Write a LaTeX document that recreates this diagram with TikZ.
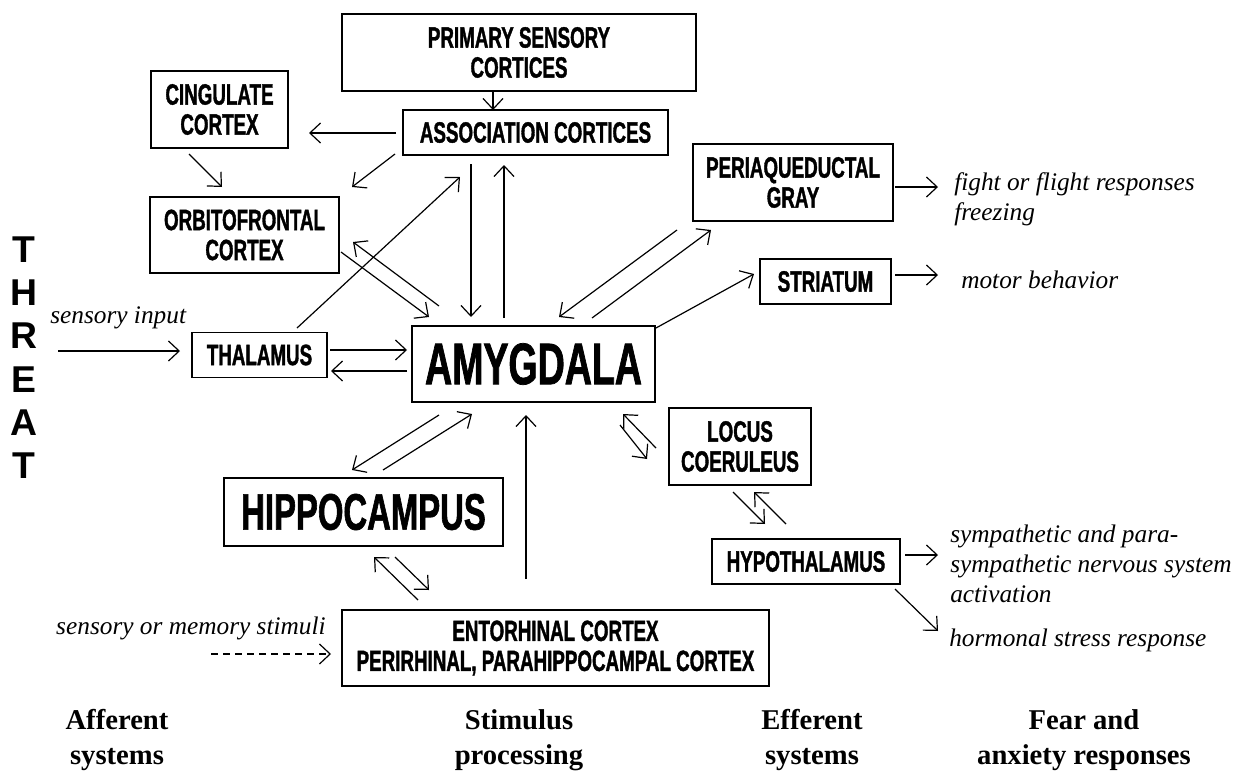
\documentclass[tikz,border=0pt]{standalone}
\usepackage{fontspec}
\setmainfont{Liberation Serif}
\newfontfamily\impact{Liberation Sans}[FakeStretch=0.64, BoldFont={* Bold}, BoldFeatures={FakeStretch=0.64, FakeBold=1.2}]
\newfontfamily\arialf{Liberation Sans}
\usetikzlibrary{arrows.meta}
\begin{document}
\begin{tikzpicture}[x=0.75pt,y=-0.75pt,
  box/.style={draw, line width=1.3pt, inner sep=0pt, align=center,
    font=\impact\bfseries\fontsize{22}{22.5}\selectfont},
  sz/.style 2 args={minimum width=#1*0.75pt, minimum height=#2*0.75pt},
  arr/.style={-{Straight Barb[length=8pt,width=15pt]}, line width=0.9pt},
  lbl/.style={font=\itshape\fontsize{19}{22.5}\selectfont, inner sep=0pt, align=left},
  cat/.style={font=\bfseries\fontsize{21.5}{26}\selectfont, align=center, inner sep=0pt}]
\useasboundingbox[fill=white] (0,0) rectangle (1241,771);

% boxes
\node[box, sz={354}{77}] (prim) at (519,52.5) {PRIMARY SENSORY\\CORTICES};
\node[box, sz={265}{45}] (assoc) at (535.5,132.5) {ASSOCIATION CORTICES};
\node[box, sz={137}{77}] (cing) at (219.5,109.5) {CINGULATE\\CORTEX};
\node[box, sz={189}{76}] (orbit) at (244.5,235) {ORBITOFRONTAL\\CORTEX};
\node[box, sz={200}{77}] (pag) at (793,182.5) {PERIAQUEDUCTAL\\GRAY};
\node[box, sz={131}{45}] (str) at (825.5,281.5) {STRIATUM};
\node[box, sz={135}{45}] (thal) at (259.5,355) {THALAMUS};
\node[box, sz={243}{76}, font=\impact\bfseries\fontsize{44}{44}\selectfont] (amyg) at (533.5,364) {AMYGDALA};
\node[box, sz={279}{68}, font=\impact\bfseries\fontsize{38.5}{40}\selectfont] (hippo) at (363.5,512) {HIPPOCAMPUS};
\node[box, sz={427}{76}] (ento) at (555.5,648) {ENTORHINAL CORTEX\\PERIRHINAL, PARAHIPPOCAMPAL CORTEX};
\node[box, sz={142}{77}] (lc) at (740,446.5) {LOCUS\\COERULEUS};
\node[box, sz={188}{45}] (hypo) at (806,561.5) {HYPOTHALAMUS};

% texts
\node[font=\arialf\bfseries\fontsize{28}{32.5}\selectfont, align=center, inner sep=0pt] (threat) at (24,357.5) {T\\H\\R\\E\\A\\T};
\node[lbl, anchor=base west] (sensin) at (50,323) {sensory input};
\node[lbl, anchor=base east] (sensmem) at (326,634) {sensory or memory stimuli};
\node[lbl, anchor=west] (fight) at (954,199) {fight or flight responses\\freezing};
\node[lbl, anchor=west] (motor) at (961,280) {motor behavior};
\node[lbl, anchor=west] (symp) at (950,564) {sympathetic and para-\\sympathetic nervous system\\activation};
\node[lbl, anchor=west] (horm) at (949,640) {hormonal stress response};
\node[cat] (c1) at (117,740) {Afferent\\systems};
\node[cat] (c2) at (519,740) {Stimulus\\processing};
\node[cat] (c3) at (812,740) {Efferent\\systems};
\node[cat] (c4) at (1084,740) {Fear and\\anxiety responses};

% connector end points
\coordinate (p1) at (493,91);   \coordinate (p2) at (493,110);
\coordinate (ac1) at (396,133); \coordinate (ac2) at (309,133);
\coordinate (co1) at (189,154); \coordinate (co2) at (222,187);
\coordinate (ao1) at (395,154); \coordinate (ao2) at (352,187);
\coordinate (oa1) at (341,252); \coordinate (oa2) at (429,317);
\coordinate (ma1) at (439,306); \coordinate (ma2) at (353,242);
\coordinate (ta1) at (297,328); \coordinate (ta2) at (460,177);
\coordinate (sa1) at (471,164); \coordinate (sa2) at (471,317);
\coordinate (as1) at (504,318); \coordinate (as2) at (504,165);
\coordinate (pa1) at (677,230); \coordinate (pa2) at (559,317);
\coordinate (ap1) at (592,318); \coordinate (ap2) at (711,230);
\coordinate (st1) at (656,328); \coordinate (st2) at (754,274);
\coordinate (mo1) at (895,275); \coordinate (mo2) at (938,275);
\coordinate (fi1) at (895,187); \coordinate (fi2) at (938,187);
\coordinate (si1) at (58,351);  \coordinate (si2) at (180,351);
\coordinate (th1) at (330,350); \coordinate (th2) at (407,350);
\coordinate (ht1) at (407,371); \coordinate (ht2) at (331,371);
\coordinate (ah1) at (439,415); \coordinate (ah2) at (352,470);
\coordinate (ha1) at (383,470); \coordinate (ha2) at (472,414);
\coordinate (ea1) at (526,579); \coordinate (ea2) at (526,415);
\coordinate (eh1) at (418,600); \coordinate (eh2) at (374,557);
\coordinate (he1) at (395,557); \coordinate (he2) at (429,590);
\coordinate (sm1) at (211,654); \coordinate (sm2) at (331,654);
\coordinate (la1) at (656,448); \coordinate (la2) at (623,414);
\coordinate (al1) at (620,425); \coordinate (al2) at (647,459);
\coordinate (lh1) at (733,492); \coordinate (lh2) at (765,524);
\coordinate (hl1) at (786,524); \coordinate (hl2) at (754,492);
\coordinate (hs1) at (905,555); \coordinate (hs2) at (938,555);
\coordinate (hh1) at (895,589); \coordinate (hh2) at (938,631);

% connectors
\draw[arr] (p1) -- (p2);
\draw[arr] (ac1) -- (ac2);
\draw[arr] (co1) -- (co2);
\draw[arr] (ao1) -- (ao2);
\draw[arr] (oa1) -- (oa2);
\draw[arr] (ma1) -- (ma2);
\draw[arr] (ta1) -- (ta2);
\draw[arr] (sa1) -- (sa2);
\draw[arr] (as1) -- (as2);
\draw[arr] (pa1) -- (pa2);
\draw[arr] (ap1) -- (ap2);
\draw[arr] (st1) -- (st2);
\draw[arr] (mo1) -- (mo2);
\draw[arr] (fi1) -- (fi2);
\draw[arr] (si1) -- (si2);
\draw[arr] (th1) -- (th2);
\draw[arr] (ht1) -- (ht2);
\draw[arr] (ah1) -- (ah2);
\draw[arr] (ha1) -- (ha2);
\draw[arr] (ea1) -- (ea2);
\draw[arr] (eh1) -- (eh2);
\draw[arr] (he1) -- (he2);
\draw[arr, dashed, dash pattern=on 5pt off 4pt] (sm1) -- (sm2);
\draw[arr] (la1) -- (la2);
\draw[arr] (al1) -- (al2);
\draw[arr] (lh1) -- (lh2);
\draw[arr] (hl1) -- (hl2);
\draw[arr] (hs1) -- (hs2);
\draw[arr] (hh1) -- (hh2);
\end{tikzpicture}
\end{document}
